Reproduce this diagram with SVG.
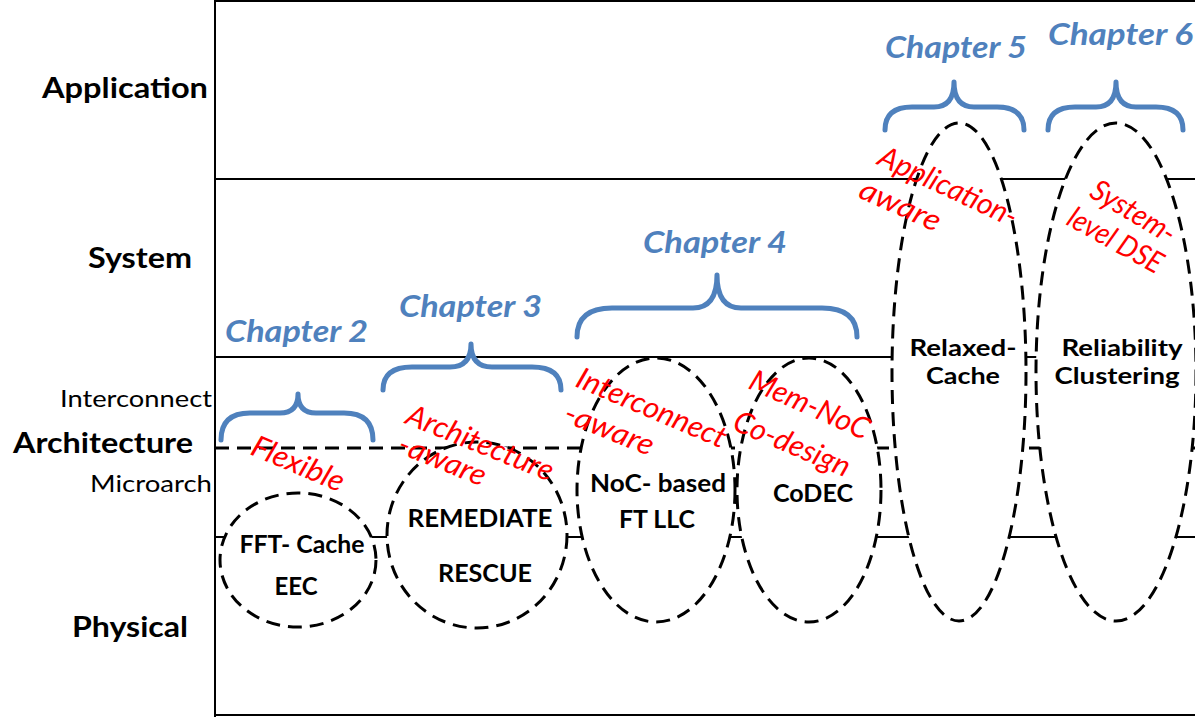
<svg xmlns="http://www.w3.org/2000/svg" width="1195" height="717" viewBox="0 0 1195 717">
  <style>
    .frame { stroke: #000; stroke-width: 2; fill: none; }
    .layer { stroke: #000; stroke-width: 2; fill: none; }
    .layer-dash { stroke: #000; stroke-width: 3; fill: none; stroke-dasharray: 14 8; }
    .scope { fill: #fff; stroke: #000; stroke-width: 3; stroke-dasharray: 14 8; }
    .brace { fill: none; stroke: #4F81BD; stroke-width: 5; stroke-linecap: round; stroke-linejoin: round; }
    .chap { font-family: Lato, "Liberation Sans", sans-serif; font-weight: bold; font-style: italic; font-size: 30px; fill: #4F81BD; }
    .lvl { font-family: Lato, "Liberation Sans", sans-serif; font-weight: bold; font-size: 29px; fill: #000; }
    .sub { font-family: Lato, "Liberation Sans", sans-serif; font-size: 24px; fill: #000; }
    .name { font-family: Lato, "Liberation Sans", sans-serif; font-weight: bold; font-size: 24px; fill: #000; text-anchor: middle; }
    .tight { font-size: 23px; }
    .note { font-family: Lato, "Liberation Sans", sans-serif; font-style: italic; font-size: 30px; fill: #FF0000; }
  </style>

  <!-- outer frame -->
  <g id="frame">
    <line class="frame" x1="215" y1="0" x2="215" y2="717"/>
    <line class="frame" x1="215" y1="1" x2="1195" y2="1"/>
    <line class="frame" x1="215" y1="715" x2="1195" y2="715"/>
  </g>

  <!-- abstraction layer boundaries -->
  <g id="connectors">
    <line class="layer" x1="215" y1="179" x2="1195" y2="179"/>
    <line class="layer" x1="215" y1="357" x2="1195" y2="357"/>
    <line class="layer-dash" x1="215" y1="448" x2="1195" y2="448"/>
    <line class="layer" x1="215" y1="537" x2="1195" y2="537"/>
  </g>

  <!-- layer labels -->
  <g id="levels">
    <text class="lvl" x="42" y="98" textLength="166" lengthAdjust="spacingAndGlyphs">Application</text>
    <text class="lvl" x="88" y="268" textLength="104" lengthAdjust="spacingAndGlyphs">System</text>
    <text class="sub" x="60" y="407" textLength="152" lengthAdjust="spacingAndGlyphs">Interconnect</text>
    <text class="lvl" x="13" y="453" textLength="180" lengthAdjust="spacingAndGlyphs">Architecture</text>
    <text class="sub" x="90" y="492" textLength="122" lengthAdjust="spacingAndGlyphs">Microarch</text>
    <text class="lvl" x="72" y="637" textLength="116" lengthAdjust="spacingAndGlyphs">Physical</text>
  </g>

  <!-- techniques -->
  <g id="fft-cache">
    <ellipse class="scope" cx="298" cy="560" rx="78" ry="67"/>
    <text class="name" x="302" y="553" textLength="125" lengthAdjust="spacingAndGlyphs">FFT- Cache</text>
    <text class="name" x="296" y="595">EEC</text>
  </g>
  <g id="remediate">
    <ellipse class="scope" cx="477" cy="535" rx="90" ry="93"/>
    <text class="name" x="480" y="527" textLength="145" lengthAdjust="spacingAndGlyphs">REMEDIATE</text>
    <text class="name" x="485" y="582" textLength="94" lengthAdjust="spacingAndGlyphs">RESCUE</text>
  </g>
  <g id="noc-llc">
    <ellipse class="scope" cx="656" cy="490" rx="79" ry="132"/>
    <text class="name" x="658" y="492" textLength="136" lengthAdjust="spacingAndGlyphs">NoC- based</text>
    <text class="name" x="657" y="528" textLength="76" lengthAdjust="spacingAndGlyphs">FT LLC</text>
  </g>
  <g id="codec">
    <ellipse class="scope" cx="809" cy="490" rx="72" ry="132"/>
    <text class="name" x="813" y="502" textLength="80" lengthAdjust="spacingAndGlyphs">CoDEC</text>
  </g>
  <g id="relaxed-cache">
    <ellipse class="scope" cx="959" cy="372" rx="67" ry="249"/>
    <text class="name tight" x="963" y="356" textLength="107" lengthAdjust="spacingAndGlyphs">Relaxed-</text>
    <text class="name tight" x="963" y="384" textLength="74" lengthAdjust="spacingAndGlyphs">Cache</text>
  </g>
  <g id="reliability-clustering">
    <ellipse class="scope" cx="1116" cy="372" rx="80" ry="249"/>
    <text class="name tight" x="1122" y="356" textLength="121" lengthAdjust="spacingAndGlyphs">Reliability</text>
    <text class="name tight" x="1117" y="384" textLength="125" lengthAdjust="spacingAndGlyphs">Clustering</text>
  </g>

  <!-- chapter braces -->
  <g id="chapters">
    <path class="brace" d="M221 440 Q221 413 250 413 L280 413 Q298 413 298 394 Q298 413 316 413 L344 413 Q373 413 373 440"/>
    <path class="brace" d="M383 390 Q383 367 412 367 L450 367 Q471 367 471 344 Q471 367 492 367 L532 367 Q561 367 561 390"/>
    <path class="brace" d="M577 337 Q577 308 612 308 L693 308 Q717 308 717 275 Q717 308 741 308 L822 308 Q857 308 857 337"/>
    <path class="brace" d="M885 130 Q885 107 912 107 L934 107 Q954 107 954 82 Q954 107 974 107 L997 107 Q1024 107 1024 130"/>
    <path class="brace" d="M1048 130 Q1048 107 1075 107 L1096 107 Q1116 107 1116 82 Q1116 107 1136 107 L1156 107 Q1183 107 1183 130"/>
    <text class="chap" x="225" y="342" textLength="143" lengthAdjust="spacingAndGlyphs">Chapter 2</text>
    <text class="chap" x="399" y="317" textLength="143" lengthAdjust="spacingAndGlyphs">Chapter 3</text>
    <text class="chap" x="643" y="253" textLength="144" lengthAdjust="spacingAndGlyphs">Chapter 4</text>
    <text class="chap" x="885" y="58" textLength="142" lengthAdjust="spacingAndGlyphs">Chapter 5</text>
    <text class="chap" x="1048" y="45" textLength="145" lengthAdjust="spacingAndGlyphs">Chapter 6</text>
  </g>

  <!-- design-approach annotations -->
  <g id="annotations">
    <text class="note" transform="translate(249 454) rotate(23)" textLength="98" lengthAdjust="spacingAndGlyphs">Flexible</text>
    <text class="note" transform="translate(404 423) rotate(22)" textLength="156" lengthAdjust="spacingAndGlyphs">Architecture</text>
    <text class="note" transform="translate(396 452) rotate(22)" textLength="92" lengthAdjust="spacingAndGlyphs">-aware</text>
    <text class="note" transform="translate(574 386) rotate(23)" textLength="160" lengthAdjust="spacingAndGlyphs">Interconnect</text>
    <text class="note" transform="translate(562 421) rotate(22)" textLength="94" lengthAdjust="spacingAndGlyphs">-aware</text>
    <text class="note" transform="translate(747 388) rotate(24)" textLength="128" lengthAdjust="spacingAndGlyphs">Mem-NoC</text>
    <text class="note" transform="translate(731 429) rotate(23)" textLength="124" lengthAdjust="spacingAndGlyphs">Co-design</text>
    <text class="note" transform="translate(876 164) rotate(25)" textLength="150" lengthAdjust="spacingAndGlyphs">Application-</text>
    <text class="note" transform="translate(857 197) rotate(24)" textLength="86" lengthAdjust="spacingAndGlyphs">aware</text>
    <text class="note" transform="translate(1088 196) rotate(31)" textLength="94" lengthAdjust="spacingAndGlyphs">System-</text>
    <text class="note" transform="translate(1065 224) rotate(29)" textLength="104" lengthAdjust="spacingAndGlyphs">level DSE</text>
  </g>
</svg>
